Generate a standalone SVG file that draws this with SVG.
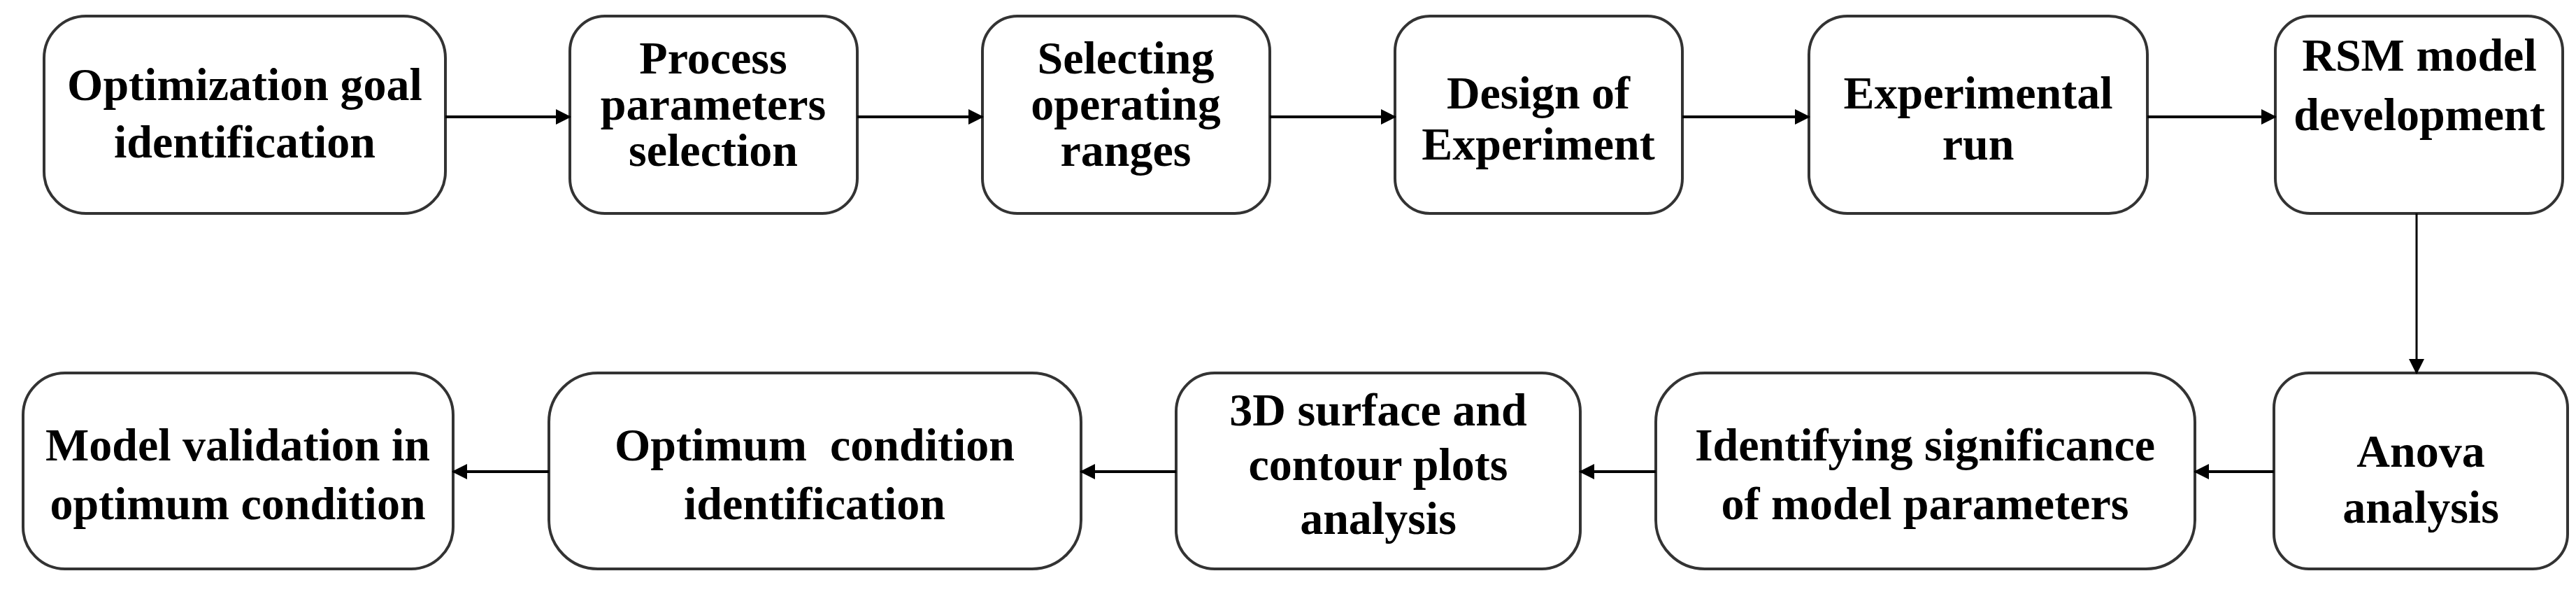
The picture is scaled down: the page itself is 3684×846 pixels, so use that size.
<svg xmlns="http://www.w3.org/2000/svg" width="3684" height="846" viewBox="0 0 3684 846">
<style>
rect{fill:#fff;stroke:#333;stroke-width:4}
text{font-family:"Liberation Serif",serif;font-weight:bold;font-size:66px;text-anchor:middle;fill:#000}
.c line{stroke:#000;stroke-width:4}
</style>
<defs>
<marker id="b" markerWidth="22" markerHeight="22" refX="20" refY="11" orient="auto" markerUnits="userSpaceOnUse"><path d="M0,0L22,11L0,22z" fill="#000"/></marker></defs>
<rect width="3684" height="846" style="stroke:none"/>
<g id="n1"><rect x="63" y="23" width="574" height="282" rx="60"/><text x="350" y="143">Optimization goal</text><text x="350" y="225">identification</text></g>
<g id="n2"><rect x="815" y="23" width="411" height="282" rx="50"/><text x="1020" y="105">Process</text><text x="1020" y="171">parameters</text><text x="1020" y="237">selection</text></g>
<g id="n3"><rect x="1405" y="23" width="411" height="282" rx="50"/><text x="1610" y="105">Selecting</text><text x="1610" y="171">operating</text><text x="1610" y="237">ranges</text></g>
<g id="n4"><rect x="1995" y="23" width="411" height="282" rx="50"/><text x="2200" y="155">Design of</text><text x="2200" y="228">Experiment</text></g>
<g id="n5"><rect x="2587" y="23" width="484" height="282" rx="55"/><text x="2829" y="155">Experimental</text><text x="2829" y="228">run</text></g>
<g id="n6"><rect x="3254" y="23" width="411" height="282" rx="50"/><text x="3460" y="101">RSM model</text><text x="3460" y="186">development</text></g>
<g id="n7"><rect x="3252" y="533" width="420" height="280" rx="50"/><text x="3462" y="667">Anova</text><text x="3462" y="747">analysis</text></g>
<g id="n8"><rect x="2368" y="533" width="771" height="280" rx="70"/><text x="2753" y="658">Identifying significance</text><text x="2753" y="742">of model parameters</text></g>
<g id="n9"><rect x="1682" y="533" width="578" height="280" rx="55"/><text x="1971" y="608">3D surface and</text><text x="1971" y="686">contour plots</text><text x="1971" y="763">analysis</text></g>
<g id="n10"><rect x="785" y="533" width="761" height="280" rx="70"/><text x="1165" y="658" style="white-space:pre">Optimum  condition</text><text x="1165" y="742">identification</text></g>
<g id="n11"><rect x="33" y="533" width="615" height="280" rx="60"/><text x="340" y="658">Model validation in</text><text x="340" y="742">optimum condition</text></g>
<g class="c" id="connectors">
<line x1="637" y1="167" x2="815" y2="167" marker-end="url(#b)"/>
<line x1="1226" y1="167" x2="1405" y2="167" marker-end="url(#b)"/>
<line x1="1816" y1="167" x2="1995" y2="167" marker-end="url(#b)"/>
<line x1="2406" y1="167" x2="2587" y2="167" marker-end="url(#b)"/>
<line x1="3071" y1="167" x2="3254" y2="167" marker-end="url(#b)"/>
<line x1="3456" y1="305" x2="3456" y2="533" style="stroke-width:3" marker-end="url(#b)"/>
<line x1="3252" y1="674" x2="3139" y2="674" marker-end="url(#b)"/>
<line x1="2368" y1="674" x2="2260" y2="674" marker-end="url(#b)"/>
<line x1="1682" y1="674" x2="1546" y2="674" marker-end="url(#b)"/>
<line x1="785" y1="674" x2="648" y2="674" marker-end="url(#b)"/>
</g>
</svg>
